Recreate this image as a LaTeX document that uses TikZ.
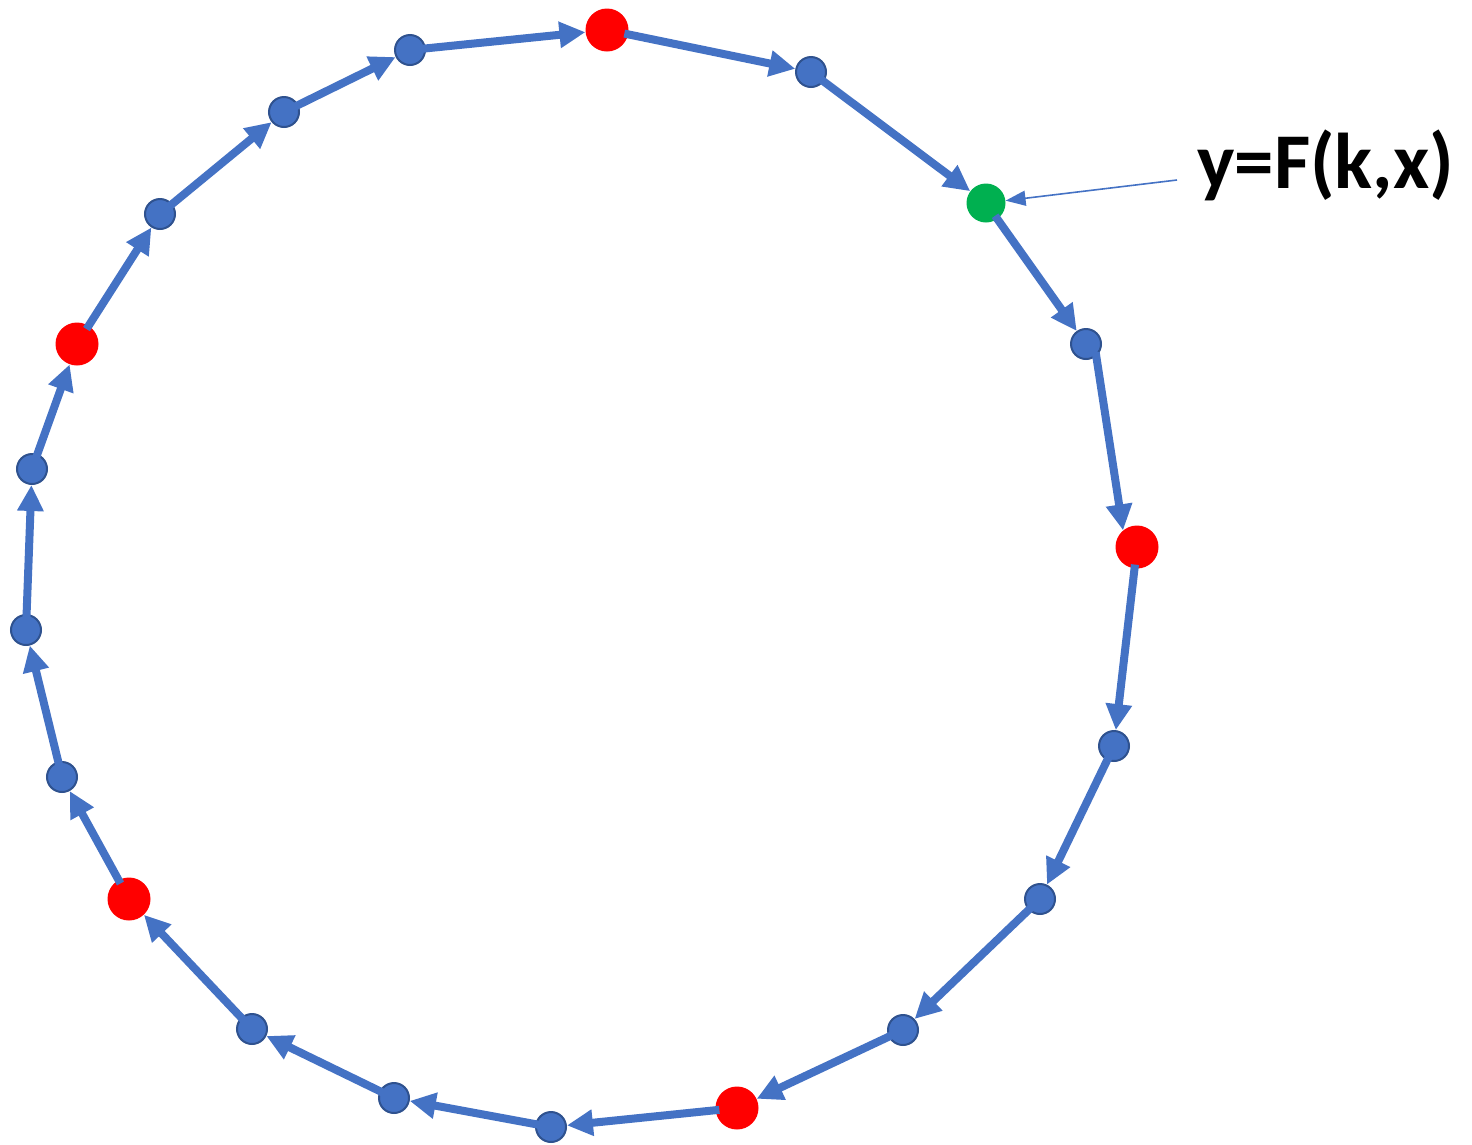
\documentclass[tikz,border=0pt]{standalone}
\usepackage{fontspec}
\setmainfont{Carlito}
\usetikzlibrary{arrows.meta}
\definecolor{cblue}{HTML}{4472C4}
\definecolor{cdark}{HTML}{2F528F}
\definecolor{cred}{HTML}{FF0000}
\definecolor{cgreen}{HTML}{00B050}
\begin{document}
\begin{tikzpicture}[x=1pt,y=-1pt,
  bdot/.style={circle,fill=cblue,draw=cdark,line width=2pt,minimum size=30pt,inner sep=0pt},
  rdot/.style={circle,fill=cred,minimum size=43pt,inner sep=0pt},
  gdot/.style={circle,fill=cgreen,minimum size=39pt,inner sep=0pt},
  link/.style={draw=cblue,line width=8pt,-{Triangle[length=26pt,width=25pt]},shorten <=-4pt},
  pointer/.style={draw=cblue,line width=1.6pt,-{Triangle[length=20pt,width=15pt]}}]
\useasboundingbox (0,0) rectangle (1472,1144);
\node[rdot] (n1) at (607,30) {};
\node[bdot] (n2) at (811,72) {};
\node[gdot] (n3) at (986,203) {};
\node[bdot] (n4) at (1086,344) {};
\node[rdot] (n5) at (1137,547) {};
\node[bdot] (n6) at (1114,746) {};
\node[bdot] (n7) at (1040,899) {};
\node[bdot] (n8) at (903,1030) {};
\node[rdot] (n9) at (737,1108) {};
\node[bdot] (n10) at (551,1127) {};
\node[bdot] (n11) at (394,1098) {};
\node[bdot] (n12) at (252,1029) {};
\node[rdot] (n13) at (129,899) {};
\node[bdot] (n14) at (62,777) {};
\node[bdot] (n15) at (26,630) {};
\node[bdot] (n16) at (32,469) {};
\node[rdot] (n17) at (77,344) {};
\node[bdot] (n18) at (160,214) {};
\node[bdot] (n19) at (284,112) {};
\node[bdot] (n20) at (410,50) {};
\foreach \a/\b in {1/2,2/3,3/4,5/6,6/7,7/8,8/9,9/10,10/11,11/12,12/13,13/14,14/15,15/16,16/17,17/18,18/19,19/20,20/1}
  \draw[link] (n\a) -- (n\b);
\draw[link] (n4.-50) -- (n5.130);
\node[anchor=base west,inner sep=0pt,font=\fontsize{79}{82}\selectfont\bfseries] (lbl) at (1197,188) {y=F(k,x)};
\coordinate (lp) at (1177,180);
\draw[pointer] (lp) -- (n3);
\end{tikzpicture}
\end{document}
